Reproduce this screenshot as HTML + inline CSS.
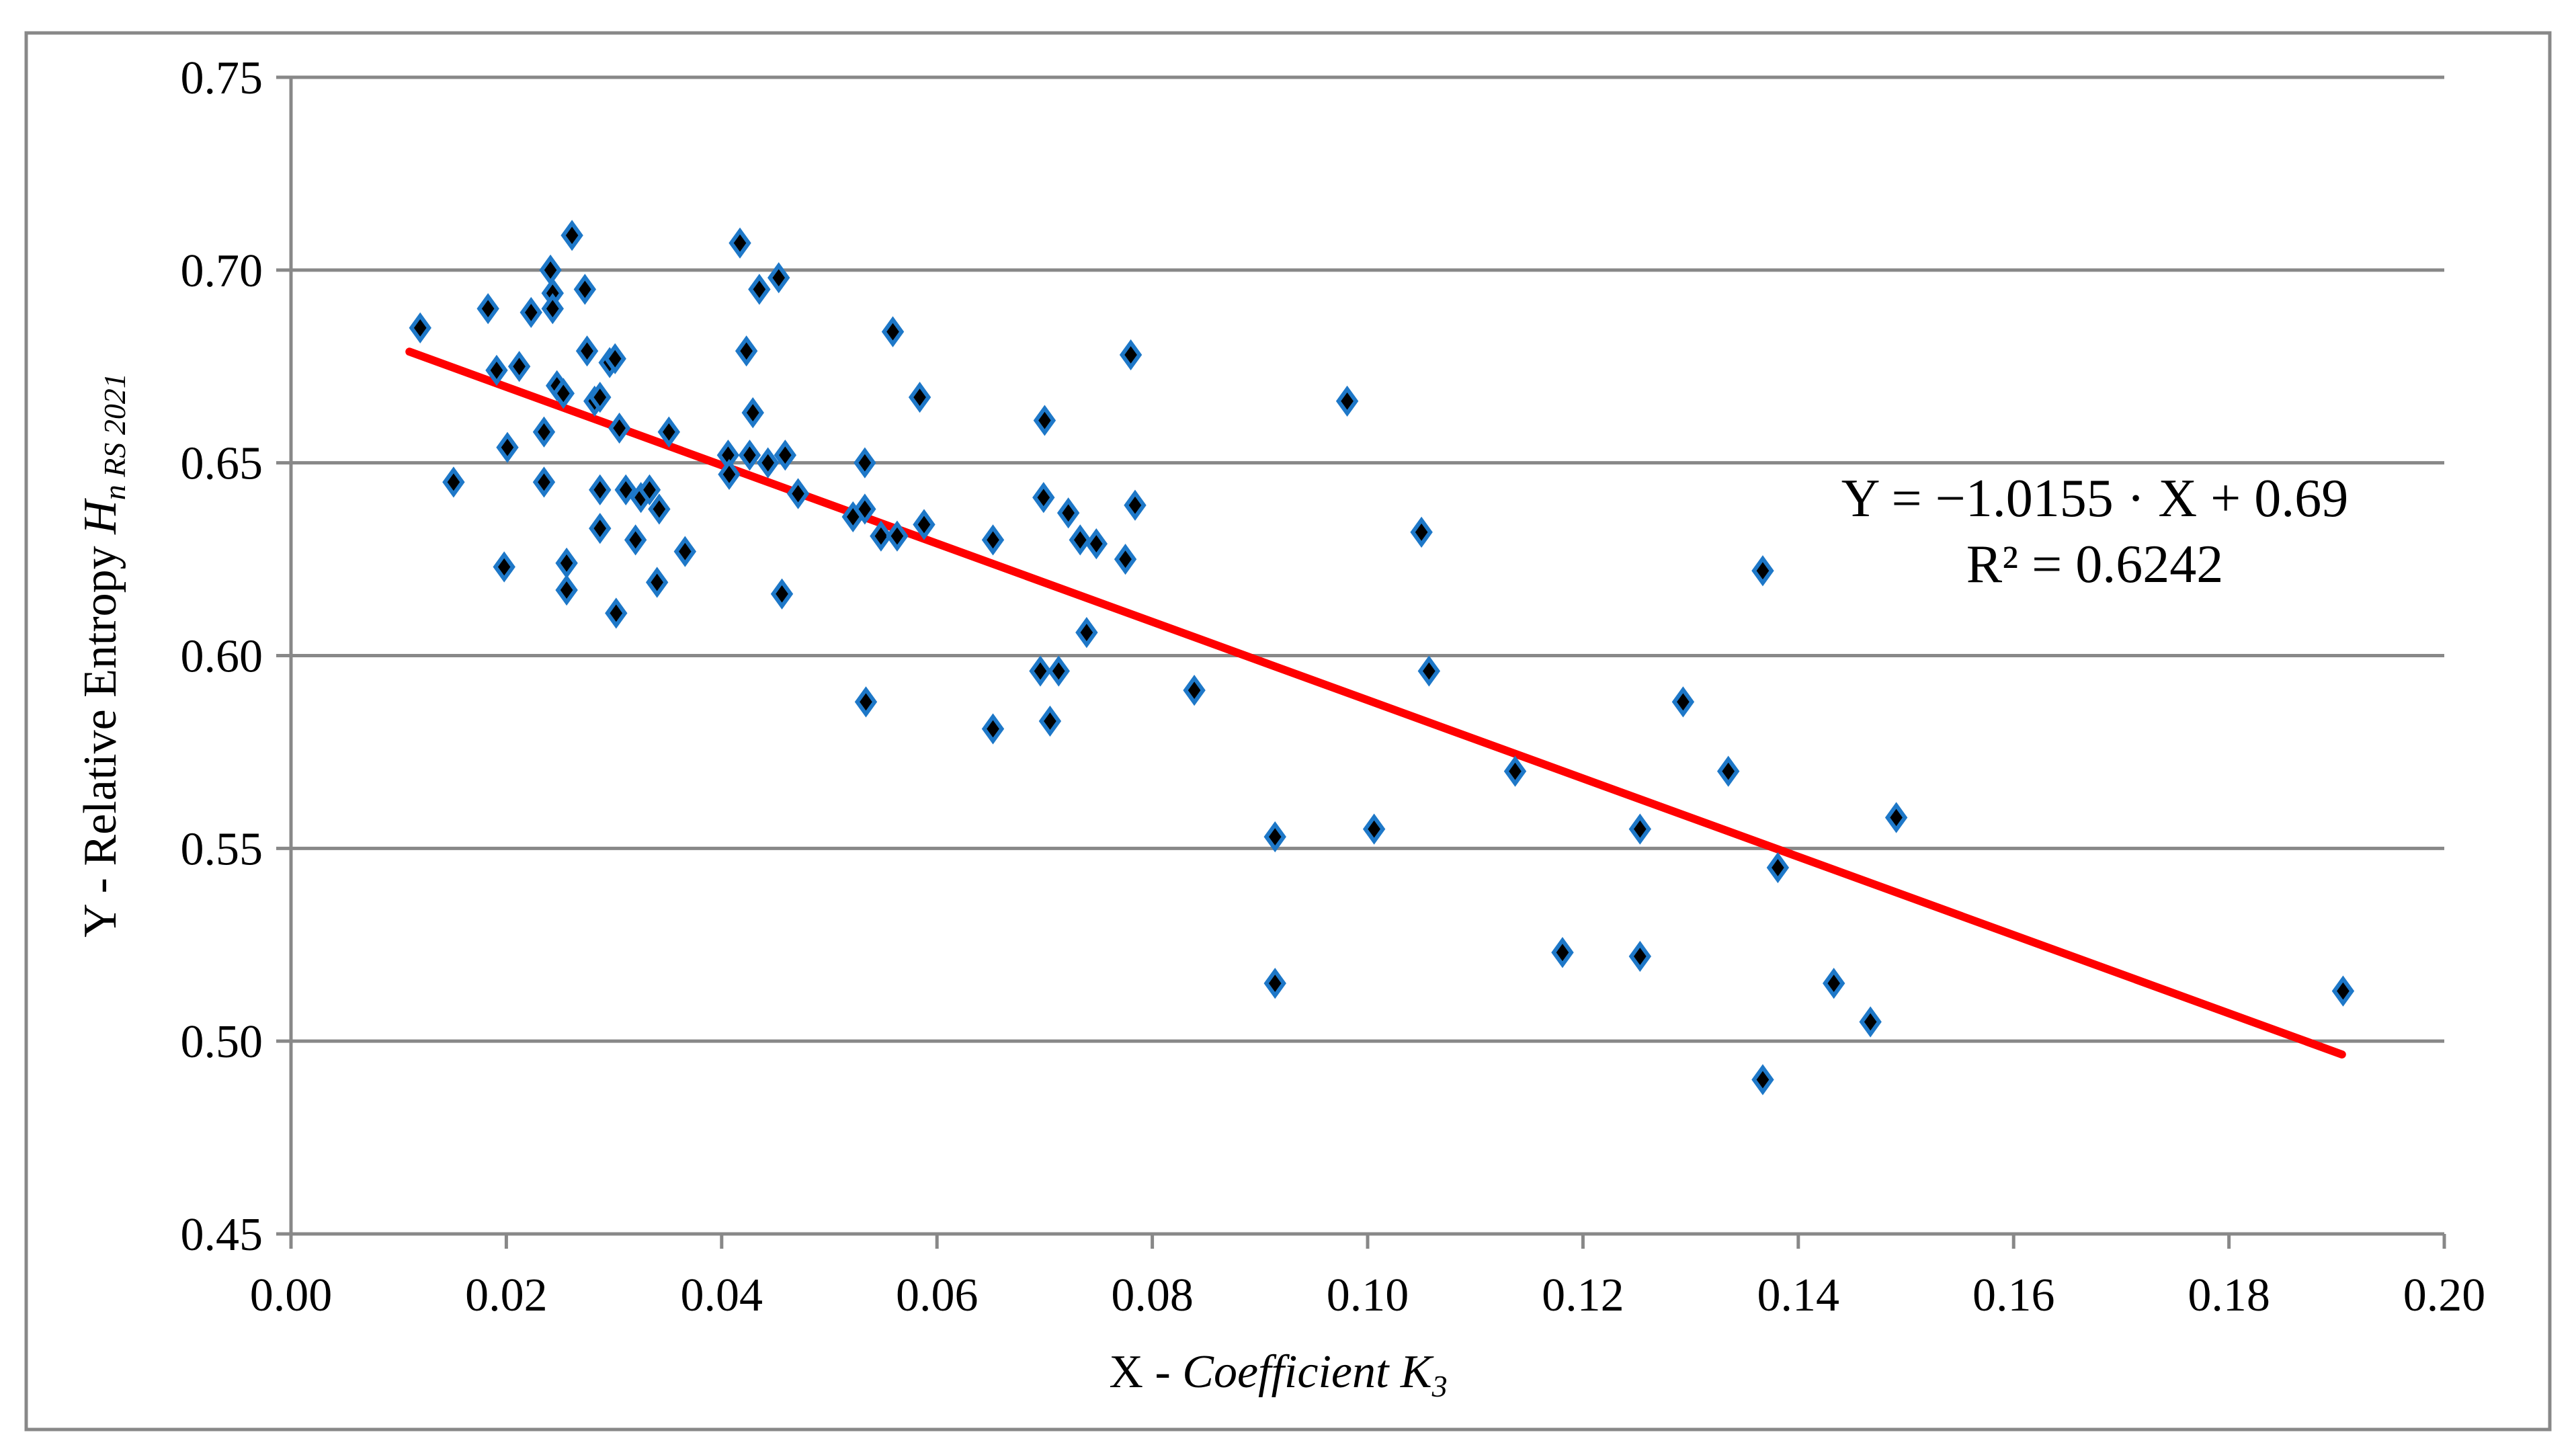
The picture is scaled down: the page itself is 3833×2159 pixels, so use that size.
<!DOCTYPE html>
<html><head><meta charset="utf-8"><style>html,body{margin:0;padding:0;background:#fff}svg{display:block}</style></head>
<body>
<svg id="chart" width="3833" height="2159" viewBox="0 0 3833 2159" xmlns="http://www.w3.org/2000/svg" font-family="'Liberation Serif', serif">
<rect x="39" y="49" width="3755" height="2078" fill="#fff" stroke="#888" stroke-width="5"/>
<g id="grid"></g>
<g id="axes"></g>
<g id="trend"></g>
<g id="points"></g>
<text x="3117" y="768" font-size="80" text-anchor="middle">Y = −1.0155 · X + 0.69</text>
<text x="3117" y="866" font-size="80" text-anchor="middle">R² = 0.6242</text>
<text x="1902" y="2064" font-size="70" text-anchor="middle">X - <tspan font-style="italic">Coefficient K</tspan><tspan font-style="italic" font-size="46" dy="14">3</tspan></text>
<text transform="translate(172,975) rotate(-90)" font-size="70" text-anchor="middle">Y - Relative Entropy <tspan font-style="italic">H</tspan><tspan font-style="italic" font-size="46" dy="14">n RS 2021</tspan></text>
</svg>
<script>
const xTicks = [0.00,0.02,0.04,0.06,0.08,0.10,0.12,0.14,0.16,0.18,0.20];
const yTicks = [0.45,0.50,0.55,0.60,0.65,0.70,0.75];
const xValues = [0.0120,0.0151,0.0183,0.0191,0.0198,0.0201,0.0212,0.0223,0.0235,0.0235,0.0241,0.0243,0.0243,0.0247,0.0253,0.0256,0.0256,0.0261,0.0273,0.0275,0.0282,0.0287,0.0287,0.0287,0.0296,0.0301,0.0302,0.0305,0.0311,0.0320,0.0325,0.0333,0.0340,0.0342,0.0351,0.0366,0.0406,0.0407,0.0417,0.0423,0.0426,0.0429,0.0435,0.0443,0.0453,0.0456,0.0459,0.0471,0.0522,0.0533,0.0533,0.0534,0.0548,0.0559,0.0563,0.0584,0.0588,0.0652,0.0652,0.0696,0.0699,0.0700,0.0705,0.0713,0.0722,0.0733,0.0739,0.0748,0.0775,0.0780,0.0784,0.0839,0.0914,0.0914,0.0981,0.1006,0.1050,0.1057,0.1137,0.1181,0.1253,0.1253,0.1293,0.1335,0.1367,0.1367,0.1381,0.1433,0.1467,0.1491,0.1906];
const yValues = [0.685,0.645,0.690,0.674,0.623,0.654,0.675,0.689,0.658,0.645,0.700,0.694,0.690,0.670,0.668,0.624,0.617,0.709,0.695,0.679,0.666,0.667,0.643,0.633,0.676,0.677,0.611,0.659,0.643,0.630,0.641,0.643,0.619,0.638,0.658,0.627,0.652,0.647,0.707,0.679,0.652,0.663,0.695,0.650,0.698,0.616,0.652,0.642,0.636,0.650,0.638,0.588,0.631,0.684,0.631,0.667,0.634,0.630,0.581,0.596,0.641,0.661,0.583,0.596,0.637,0.630,0.606,0.629,0.625,0.678,0.639,0.591,0.553,0.515,0.666,0.555,0.632,0.596,0.570,0.523,0.555,0.522,0.588,0.570,0.622,0.490,0.545,0.515,0.505,0.558,0.513];
const slope = -1.0155, intercept = 0.69;
const trendRange = [0.011, 0.1905];

const L=433,R=3637,T=115,B=1836;
const sx=v=>L+(v-0)/(0.20-0)*(R-L);
const sy=v=>B-(v-0.45)/(0.75-0.45)*(B-T);
const NS='http://www.w3.org/2000/svg';
function mk(tag,attrs,parent){const e=document.createElementNS(NS,tag);for(const k in attrs)e.setAttribute(k,attrs[k]);parent.appendChild(e);return e;}
const grid=document.getElementById('grid'),axes=document.getElementById('axes');
yTicks.forEach(t=>{
  const y=sy(t);
  const g=mk('line',{x1:L-22,x2:R,y1:y,y2:y,stroke:'#888','stroke-width':5},grid);
  
  
  const tx=mk('text',{x:L-42,y:y+24,'font-size':70,'text-anchor':'end'},axes);
  tx.textContent=t.toFixed(2);
  
  
});
const ya=mk('line',{x1:L,x2:L,y1:T,y2:B,stroke:'#888','stroke-width':5},axes);


xTicks.forEach(t=>{
  const x=sx(t);
  const tk=mk('line',{x1:x,x2:x,y1:B,y2:B+22,stroke:'#888','stroke-width':5},axes);
  
  
  const tx=mk('text',{x:x,y:B+114,'font-size':70,'text-anchor':'middle'},axes);
  tx.textContent=t.toFixed(2);
  
  
});
const tl=mk('line',{x1:sx(trendRange[0]),y1:sy(intercept+slope*trendRange[0]),x2:sx(trendRange[1]),y2:sy(intercept+slope*trendRange[1]),stroke:'#ff0000','stroke-width':12,'stroke-linecap':'round'},document.getElementById('trend'));


const pts=document.getElementById('points');
xValues.forEach((xv,i)=>{
  const x=sx(xv),y=sy(yValues[i]);
  const p=mk('path',{d:`M${x} ${y-18}L${x+13} ${y}L${x} ${y+18}L${x-13} ${y}Z`,fill:'#000',stroke:'#1e78c8','stroke-width':6},pts);
  
  
});
</script>
</body></html>
